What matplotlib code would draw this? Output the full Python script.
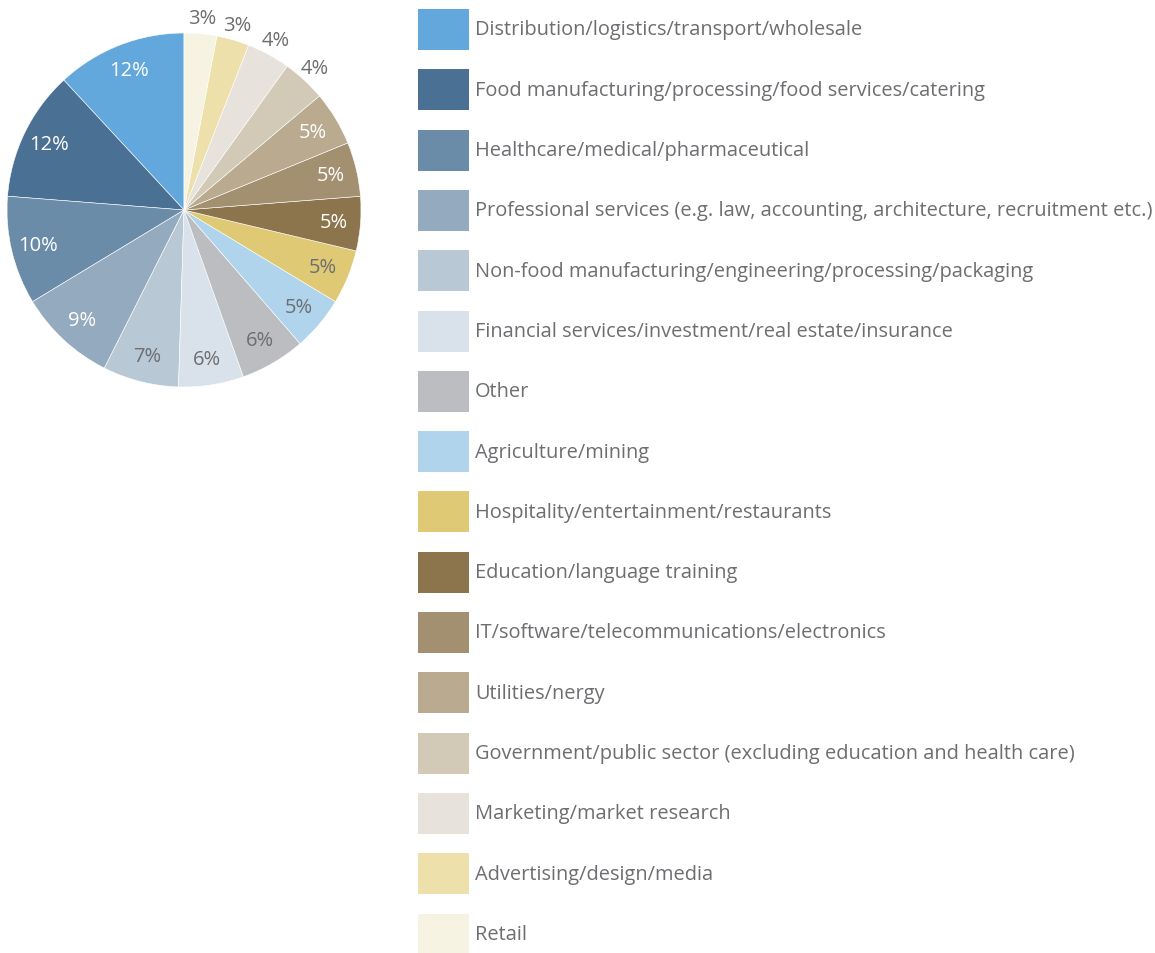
import matplotlib.pyplot as plt
import numpy as np
from matplotlib.patches import Rectangle

plt.rcParams['font.family'] = ['Open Sans', 'DejaVu Sans']

# Sector shares (%), in pie order starting at 12 o'clock, counterclockwise
sectors = [
    'Distribution/logistics/transport/wholesale',
    'Food manufacturing/processing/food services/catering',
    'Healthcare/medical/pharmaceutical',
    'Professional services (e.g. law, accounting, architecture, recruitment etc.)',
    'Non-food manufacturing/engineering/processing/packaging',
    'Financial services/investment/real estate/insurance',
    'Other',
    'Agriculture/mining',
    'Hospitality/entertainment/restaurants',
    'Education/language training',
    'IT/software/telecommunications/electronics',
    'Utilities/nergy',
    'Government/public sector (excluding education and health care)',
    'Marketing/market research',
    'Advertising/design/media',
    'Retail',
]
shares = [12, 12, 10, 9, 7, 6, 6, 5, 5, 5, 5, 5, 4, 4, 3, 3]
colors = ['#62a8dc', '#4a7094', '#6b8ca9', '#94aabe', '#b8c8d5', '#d9e2ea',
          '#bcbdc1', '#b0d4ec', '#e0c974', '#8c744c', '#a39070', '#b9aa90',
          '#d3c9b7', '#e7e3dc', '#ede0aa', '#f7f3e3']
white_label = [True, True, True, True, False, False, False, False, False,
               True, True, True, False, False, False, False]
outside_label = [False] * 12 + [True] * 4

grey = '#6d6e71'
W, H = 1155, 954
fig = plt.figure(figsize=(W / 100, H / 100), dpi=100)

# pie: centre (184, 211) px, radius 177 px
cx, cy, r = 184, 211, 177
ax = fig.add_axes([(cx - r) / W, 1 - (cy + r) / H, 2 * r / W, 2 * r / H])
wedges, _ = ax.pie(shares, colors=colors, startangle=90, counterclock=True,
                   wedgeprops=dict(edgecolor='white', linewidth=0.4))
ax.set_xlim(-1, 1)
ax.set_ylim(-1, 1)
ax.set_aspect('equal')
ax.axis('off')

# percentage labels: inside near the rim, the four smallest just outside
total = sum(shares)
start = 90.0
for val, wl, out in zip(shares, white_label, outside_label):
    mid = np.deg2rad(start + 360.0 * val / total / 2)
    start += 360.0 * val / total
    d = 1.09 if out else 0.85
    ax.text(d * np.cos(mid), d * np.sin(mid), f'{val}%', ha='center', va='center',
            fontsize=14.5, color='white' if wl else grey, clip_on=False)

# legend drawn in pixel coordinates
lax = fig.add_axes([0, 0, 1, 1])
lax.set_xlim(0, W)
lax.set_ylim(H, 0)
lax.axis('off')
row0, step = 30.5, 60.3
for i, (name, col) in enumerate(zip(sectors, colors)):
    yc = row0 + i * step
    lax.add_patch(Rectangle((418, yc - 20.5), 51, 41, facecolor=col, edgecolor='none'))
    lax.text(475, yc, name, ha='left', va='center', fontsize=14.4, color=grey)

fig.savefig('out.png', dpi=100)
